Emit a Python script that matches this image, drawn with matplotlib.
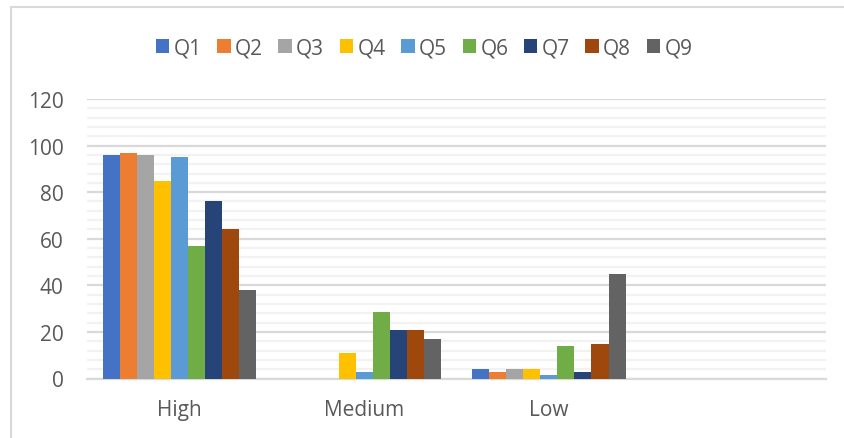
import matplotlib
matplotlib.use('Agg')
import matplotlib.pyplot as plt
import numpy as np
from matplotlib.patches import Rectangle

# categories (the fourth slot is empty in the original sheet)
categories = ['High', 'Medium', 'Low', '']
series = ['Q1', 'Q2', 'Q3', 'Q4', 'Q5', 'Q6', 'Q7', 'Q8', 'Q9']

q1 = [96, 0, 4, 0]
q2 = [97, 0, 3, 0]
q3 = [96, 0, 4, 0]
q4 = [85, 11, 4, 0]
q5 = [95, 3, 1.5, 0]
q6 = [57, 28.5, 14, 0]
q7 = [76, 21, 3, 0]
q8 = [64, 21, 15, 0]
q9 = [38, 17, 45, 0]
values = [q1, q2, q3, q4, q5, q6, q7, q8, q9]

colors = ['#4472c4', '#ed7d31', '#a5a5a5', '#ffc000', '#5b9bd5',
          '#70ad47', '#264478', '#9e480e', '#636363']

plt.rcParams['font.family'] = ['Open Sans', 'DejaVu Sans']
text_color = '#595959'

fig = plt.figure(figsize=(8.45, 4.39), dpi=100)
ax = fig.add_axes([87 / 845, 1 - 379.5 / 439, (826 - 87) / 845, (379.5 - 100) / 439])

x = np.arange(len(categories))
group = 0.83
w = group / len(series)
for i, (name, vals) in enumerate(zip(series, values)):
    offs = -group / 2 + w * (i + 0.5)
    ax.bar(x + offs, vals, w, color=colors[i], label=name, zorder=3)

ax.set_xlim(-0.5, len(categories) - 0.5)
ax.set_ylim(0, 120)
ax.set_yticks(np.arange(0, 121, 20))
ax.set_yticks(np.arange(0, 121, 4), minor=True)
ax.set_xticks(x)
ax.set_xticklabels(categories)

ax.grid(axis='y', which='major', color='#d9d9d9', linewidth=1.6, zorder=0)
ax.grid(axis='y', which='minor', color='#f2f2f2', linewidth=1.6, zorder=0)
for s in ['top', 'right', 'left']:
    ax.spines[s].set_visible(False)
ax.spines['bottom'].set_color('#d9d9d9')
ax.spines['bottom'].set_linewidth(1.6)
ax.tick_params(axis='both', which='both', length=0, colors=text_color, labelsize=15)
ax.tick_params(axis='y', pad=17)
ax.tick_params(axis='x', pad=15)

ax.legend(loc='center', bbox_to_anchor=(424 / 845, 1 - 48.5 / 439),
          bbox_transform=fig.transFigure, ncol=9, frameon=False,
          fontsize=15, handlelength=0.65, handleheight=0.65,
          handletextpad=0.2, columnspacing=0.75, labelcolor=text_color)

# light frame of the chart area (cropped on the right and bottom)
fig.patches.append(Rectangle((11 / 845, -0.1), 1.2, 1 - 8 / 439 + 0.1,
                             transform=fig.transFigure, fill=False,
                             edgecolor='#d9d9d9', linewidth=1.5))

fig.savefig('out.png', dpi=100)
